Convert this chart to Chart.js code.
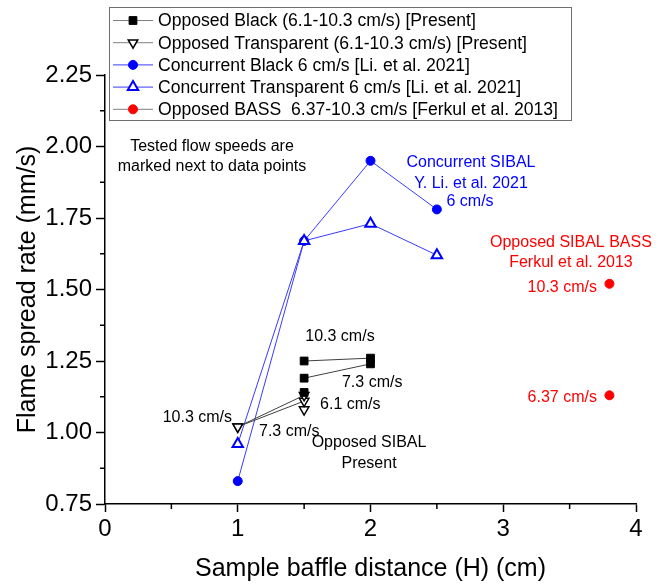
<!DOCTYPE html>
<html>
<head>
<meta charset="utf-8">
<script src="https://cdn.jsdelivr.net/npm/chart.js"></script>
<style>
  html, body { margin: 0; padding: 0; background: #fff; }
  #wrap { width: 666px; height: 585px; }
</style>
</head>
<body>
<div id="wrap"><canvas id="c" width="666" height="585"></canvas></div>
<script>
const FONT = 'Arial, "Liberation Sans", sans-serif';

const xTicks = [0, 1, 2, 3, 4];
const yTicks = [0.75, 1.00, 1.25, 1.50, 1.75, 2.00, 2.25];

// present work, opposed flow: one polyline per tested flow speed (10.3, 7.3, 6.1 cm/s)
const opposedBlackX = [[1.5, 2], [1.5, 2], [1.5]];
const opposedBlackY = [[1.25, 1.26], [1.19, 1.24], [1.14]];
const opposedTranspX = [[1, 1.5], [1, 1.5], [1.5]];
const opposedTranspY = [[1.02, 1.13], [1.02, 1.11], [1.08]];

// Li et al. 2021, concurrent 6 cm/s
const concurrentX = [1, 1.5, 2, 2.5];
const concurrentBlackY = [0.83, 1.67, 1.95, 1.78];
const concurrentTranspY = [0.96, 1.67, 1.73, 1.62];

// Ferkul et al. 2013, BASS
const bassX = [3.8, 3.8];
const bassY = [1.52, 1.13];

const legendLabels = [
  'Opposed Black (6.1-10.3 cm/s) [Present]',
  'Opposed Transparent (6.1-10.3 cm/s) [Present]',
  'Concurrent Black 6 cm/s [Li. et al. 2021]',
  'Concurrent Transparent 6 cm/s [Li. et al. 2021]',
  'Opposed BASS  6.37-10.3 cm/s [Ferkul et al. 2013]'
];

// text notes, anchored in data units
const notes = [
  { text: 'Tested flow speeds are', x: 0.806, y: 1.998, color: '#000', align: 'center' },
  { text: 'marked next to data points', x: 0.806, y: 1.928, color: '#000', align: 'center' },
  { text: 'Concurrent SIBAL', x: 2.757, y: 1.942, color: '#0000ff', align: 'center' },
  { text: 'Y. Li. et al. 2021', x: 2.757, y: 1.872, color: '#0000ff', align: 'center' },
  { text: '6 cm/s', x: 2.75, y: 1.806, color: '#0000ff', align: 'center' },
  { text: 'Opposed SIBAL BASS', x: 3.51, y: 1.663, color: '#ff0000', align: 'center' },
  { text: 'Ferkul et al. 2013', x: 3.51, y: 1.593, color: '#ff0000', align: 'center' },
  { text: '10.3 cm/s', x: 3.706, y: 1.505, color: '#ff0000', align: 'right' },
  { text: '6.37 cm/s', x: 3.706, y: 1.121, color: '#ff0000', align: 'right' },
  { text: '10.3 cm/s', x: 1.77, y: 1.334, color: '#000', align: 'center' },
  { text: '7.3 cm/s', x: 1.785, y: 1.173, color: '#000', align: 'left' },
  { text: '6.1 cm/s', x: 1.62, y: 1.096, color: '#000', align: 'left' },
  { text: '10.3 cm/s', x: 0.957, y: 1.051, color: '#000', align: 'right' },
  { text: '7.3 cm/s', x: 1.16, y: 1.002, color: '#000', align: 'left' },
  { text: 'Opposed SIBAL', x: 1.989, y: 0.963, color: '#000', align: 'center' },
  { text: 'Present', x: 1.989, y: 0.893, color: '#000', align: 'center' }
];

function pts(xs, ys) {
  return xs.map((x, i) => ({ x: x, y: ys[i] }));
}

const blackSq = { pointStyle: 'rect', pointRadius: 5.5, pointBackgroundColor: '#000', pointBorderColor: '#000', pointBorderWidth: 1, borderColor: '#404040', borderWidth: 1, legendLine: '#808080' };
const blackTri = { pointStyle: 'triangle', pointRotation: 180, pointRadius: 5.5, pointBackgroundColor: '#fff', pointBorderColor: '#000', pointBorderWidth: 1.5, borderColor: '#404040', borderWidth: 1, legendLine: '#808080' };

const datasets = [];
opposedTranspX.forEach((xs, i) => {
  datasets.push(Object.assign({ label: legendLabels[1], data: pts(xs, opposedTranspY[i]), legendIdx: i === 0 ? 1 : -1, order: 3 }, blackTri));
});
opposedBlackX.forEach((xs, i) => {
  datasets.push(Object.assign({ label: legendLabels[0], data: pts(xs, opposedBlackY[i]), legendIdx: i === 0 ? 0 : -1, order: 2 }, blackSq));
});
datasets.push({
  label: legendLabels[2], data: pts(concurrentX, concurrentBlackY), legendIdx: 2, order: 5,
  pointStyle: 'circle', pointRadius: 4.5, pointBackgroundColor: '#0000ff', pointBorderColor: '#0000ff', pointBorderWidth: 1,
  borderColor: '#3a3aff', borderWidth: 1, legendLine: '#3a3aff'
});
datasets.push({
  label: legendLabels[3], data: pts(concurrentX, concurrentTranspY), legendIdx: 3, order: 4,
  pointStyle: 'triangle', pointRadius: 6, pointBackgroundColor: '#fff', pointBorderColor: '#0000ff', pointBorderWidth: 2,
  borderColor: '#3a3aff', borderWidth: 1, legendLine: '#3a3aff'
});
datasets.push({
  label: legendLabels[4], data: pts(bassX, bassY), legendIdx: 4, order: 1, showLine: false,
  pointStyle: 'circle', pointRadius: 4.5, pointBackgroundColor: '#ff0000', pointBorderColor: '#ff0000', pointBorderWidth: 1,
  borderColor: '#808080', borderWidth: 1, legendLine: '#808080'
});

function marker(ctx, ds, x, y) {
  ctx.fillStyle = ds.pointBackgroundColor;
  ctx.strokeStyle = ds.pointBorderColor;
  ctx.lineWidth = ds.pointBorderWidth;
  Chart.helpers.drawPoint(ctx, {
    pointStyle: ds.pointStyle, rotation: ds.pointRotation || 0,
    radius: ds.pointRadius, borderWidth: ds.pointBorderWidth
  }, x, y);
}

const overlay = {
  id: 'overlay',
  afterDraw(chart) {
    const ctx = chart.ctx;
    const xs = chart.scales.x, ys = chart.scales.y;
    ctx.save();

    // minor ticks
    ctx.strokeStyle = '#000';
    ctx.lineWidth = 1.5;
    for (let i = 0; i < yTicks.length - 1; i++) {
      const py = ys.getPixelForValue((yTicks[i] + yTicks[i + 1]) / 2);
      ctx.beginPath(); ctx.moveTo(xs.left - 5, py); ctx.lineTo(xs.left, py); ctx.stroke();
    }
    for (let i = 0; i < xTicks.length - 1; i++) {
      const px = xs.getPixelForValue((xTicks[i] + xTicks[i + 1]) / 2);
      ctx.beginPath(); ctx.moveTo(px, ys.bottom); ctx.lineTo(px, ys.bottom + 5); ctx.stroke();
    }

    // notes
    ctx.font = '16px ' + FONT;
    ctx.textBaseline = 'middle';
    notes.forEach(n => {
      ctx.fillStyle = n.color;
      ctx.textAlign = n.align;
      ctx.fillText(n.text, xs.getPixelForValue(n.x), ys.getPixelForValue(n.y));
    });

    // legend box
    const L = 109, T = 7, R = 571, B = 120;
    ctx.fillStyle = '#fff';
    ctx.fillRect(L, T, R - L, B - T);
    ctx.strokeStyle = '#6e6e6e';
    ctx.lineWidth = 1;
    ctx.strokeRect(L + 0.5, T + 0.5, R - L, B - T);
    ctx.font = '17.6px ' + FONT;
    ctx.textAlign = 'left';
    chart.data.datasets.filter(d => d.legendIdx >= 0)
      .sort((a, b) => a.legendIdx - b.legendIdx)
      .forEach((ds, i) => {
        const y = 20.5 + i * 22.2;
        ctx.strokeStyle = ds.legendLine;
        ctx.lineWidth = 1;
        ctx.beginPath(); ctx.moveTo(113, y); ctx.lineTo(153, y); ctx.stroke();
        marker(ctx, ds, 133, y);
        ctx.fillStyle = '#000';
        ctx.fillText(ds.label, 158, y + 1);
      });
    ctx.restore();
  }
};

new Chart(document.getElementById('c'), {
  type: 'line',
  data: { datasets: datasets },
  options: {
    responsive: false,
    animation: false,
    layout: { padding: { top: 75, right: 30, left: 0, bottom: 0 } },
    elements: { line: { tension: 0 } },
    plugins: { legend: { display: false }, tooltip: { enabled: false } },
    scales: {
      x: {
        type: 'linear', min: 0, max: 4,
        afterFit: s => { s.height = 81; },
        ticks: { stepSize: 1, autoSkip: false, maxRotation: 0, padding: 3, color: '#000', font: { family: FONT, size: 24 } },
        grid: { drawOnChartArea: false, drawTicks: true, tickLength: 8, tickColor: '#000', tickWidth: 1.5 },
        border: { color: '#000', width: 1.5 },
        title: { display: true, text: 'Sample baffle distance (H) (cm)', color: '#000', font: { family: FONT, size: 25 }, padding: { top: 0, bottom: 1 } }
      },
      y: {
        type: 'linear', min: 0.75, max: 2.25,
        afterFit: s => { s.width = 105; },
        ticks: { stepSize: 0.25, autoSkip: false, padding: 4, color: '#000', font: { family: FONT, size: 24 }, callback: v => v.toFixed(2) },
        grid: { drawOnChartArea: false, drawTicks: true, tickLength: 9, tickColor: '#000', tickWidth: 1.5 },
        border: { color: '#000', width: 1.5 },
        title: { display: true, text: 'Flame spread rate (mm/s)', color: '#000', font: { family: FONT, size: 25 }, padding: { top: 13, bottom: 0 } }
      }
    }
  },
  plugins: [overlay]
});
</script>
</body>
</html>
